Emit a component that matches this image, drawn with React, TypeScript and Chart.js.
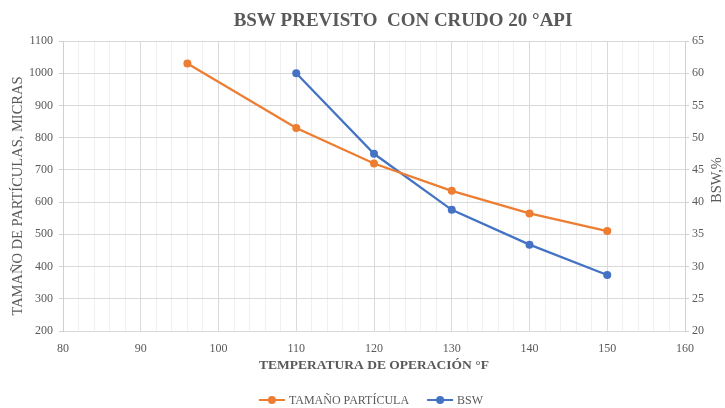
import React, { useEffect, useRef } from 'react';
import { Chart, registerables } from 'chart.js';

Chart.register(...registerables);

const chartTitle = 'BSW PREVISTO  CON CRUDO 20 °API';
const xAxisTitle = 'TEMPERATURA DE OPERACIÓN °F';
const yAxisTitle = 'TAMAÑO DE PARTÍCULAS, MICRAS';
const y1AxisTitle = 'BSW,%';

const particleTemps = [96, 110, 120, 130, 140, 150];
const particleSize = [1030, 830, 720, 635, 565, 510];
const bswTemps = [110, 120, 130, 140, 150];
const bswPercent = [60, 47.5, 38.8, 33.4, 28.7];

const seriesLabels = ['TAMAÑO PARTÍCULA', 'BSW'];
const seriesColors = ['#ED7D31', '#4472C4'];

const SERIF = '"Liberation Serif", "Times New Roman", serif';
const GRAY = '#595959';

const overlayPlugin = {
  id: 'overlay',
  afterDraw(chart: any) {
    const ctx = chart.ctx as CanvasRenderingContext2D;
    ctx.save();
    // title
    ctx.fillStyle = GRAY;
    ctx.font = `bold 19px ${SERIF}`;
    ctx.textAlign = 'center';
    ctx.textBaseline = 'middle';
    ctx.fillText(chartTitle, 403, 21);

    // vertical axis titles (both read bottom-to-top)
    ctx.font = `14.5px ${SERIF}`;
    ctx.save();
    ctx.translate(18, 196);
    ctx.rotate(-Math.PI / 2);
    ctx.fillText(yAxisTitle, 0, 0);
    ctx.restore();
    ctx.save();
    ctx.translate(717, 180);
    ctx.rotate(-Math.PI / 2);
    ctx.fillText(y1AxisTitle, 0, 0);
    ctx.restore();

    // legend
    ctx.font = `12px ${SERIF}`;
    const iconW = 26;
    const textGap = 4;
    const gap = 18;
    const items = chart.data.datasets.map((ds: any) => ({
      label: ds.label,
      color: ds.borderColor,
      w: iconW + textGap + ctx.measureText(ds.label).width,
    }));
    const total = items.reduce((s: number, i: any) => s + i.w, 0) + gap * (items.length - 1);
    let x = 371 - total / 2;
    const y = 400;
    for (const it of items) {
      ctx.strokeStyle = it.color;
      ctx.lineWidth = 2;
      ctx.beginPath();
      ctx.moveTo(x, y);
      ctx.lineTo(x + iconW, y);
      ctx.stroke();
      ctx.fillStyle = it.color;
      ctx.beginPath();
      ctx.arc(x + iconW / 2, y, 4, 0, Math.PI * 2);
      ctx.fill();
      ctx.fillStyle = GRAY;
      ctx.textAlign = 'left';
      ctx.fillText(it.label, x + iconW + textGap, y + 1);
      x += it.w + gap;
    }
    ctx.restore();
  },
};

export default function App() {
  const canvasRef = useRef<HTMLCanvasElement | null>(null);

  useEffect(() => {
    if (!canvasRef.current) return;
    const tickFont = { family: SERIF, size: 12 };
    const plain = (v: any) => String(v);
    const chart = new Chart(canvasRef.current, {
      type: 'line',
      data: {
        datasets: [
          {
            label: seriesLabels[0],
            data: particleTemps.map((t, i) => ({ x: t, y: particleSize[i] })),
            borderColor: seriesColors[0],
            backgroundColor: seriesColors[0],
            pointBackgroundColor: seriesColors[0],
            pointBorderWidth: 0,
            pointRadius: 4,
            borderWidth: 2.25,
            tension: 0,
            yAxisID: 'y',
          },
          {
            label: seriesLabels[1],
            data: bswTemps.map((t, i) => ({ x: t, y: bswPercent[i] })),
            borderColor: seriesColors[1],
            backgroundColor: seriesColors[1],
            pointBackgroundColor: seriesColors[1],
            pointBorderWidth: 0,
            pointRadius: 4,
            borderWidth: 2.25,
            tension: 0,
            yAxisID: 'y1',
          },
        ],
      },
      options: {
        responsive: false,
        animation: false,
        layout: { padding: { top: 41, bottom: 32, left: 0, right: 0 } },
        plugins: {
          legend: { display: false },
          title: { display: false },
          tooltip: { enabled: false },
        },
        scales: {
          x: {
            type: 'linear',
            min: 80,
            max: 160,
            ticks: {
              stepSize: 2,
              autoSkip: false,
              maxRotation: 0,
              color: GRAY,
              font: tickFont,
              padding: 11,
              callback: (v: any) => (Number(v) % 10 === 0 ? String(v) : ''),
            },
            grid: {
              color: (c: any) => (c.tick && c.tick.value % 10 === 0 ? '#d9d9d9' : '#efefef'),
              drawTicks: false,
            },
            border: { color: '#d9d9d9' },
            title: {
              display: true,
              text: xAxisTitle,
              color: GRAY,
              font: { family: SERIF, size: 13.5, weight: 'bold' },
              padding: { top: 0, bottom: 2 },
            },
            afterFit: (s: any) => {
              s.height = 45;
            },
          },
          y: {
            type: 'linear',
            position: 'left',
            min: 200,
            max: 1100,
            ticks: { stepSize: 100, color: GRAY, font: tickFont, padding: 6, callback: plain },
            grid: { color: '#d9d9d9', tickLength: 4, tickColor: '#d0d0d0' },
            border: { color: '#d0d0d0' },
            title: { display: false },
            afterFit: (s: any) => {
              s.width = 63;
            },
          },
          y1: {
            type: 'linear',
            position: 'right',
            min: 20,
            max: 65,
            ticks: { stepSize: 5, color: GRAY, font: tickFont, padding: 3, callback: plain },
            grid: { drawOnChartArea: false, tickLength: 4, color: '#d0d0d0' },
            border: { color: '#d0d0d0' },
            title: { display: false },
            afterFit: (s: any) => {
              s.width = 40;
            },
          },
        },
      },
      plugins: [overlayPlugin],
    } as any);
    return () => chart.destroy();
  }, []);

  return (
    <div style={{ position: 'absolute', left: 0, top: 0, width: 725, height: 408, background: '#fff' }}>
      <canvas ref={canvasRef} width={725} height={408} style={{ display: 'block' }} />
    </div>
  );
}
